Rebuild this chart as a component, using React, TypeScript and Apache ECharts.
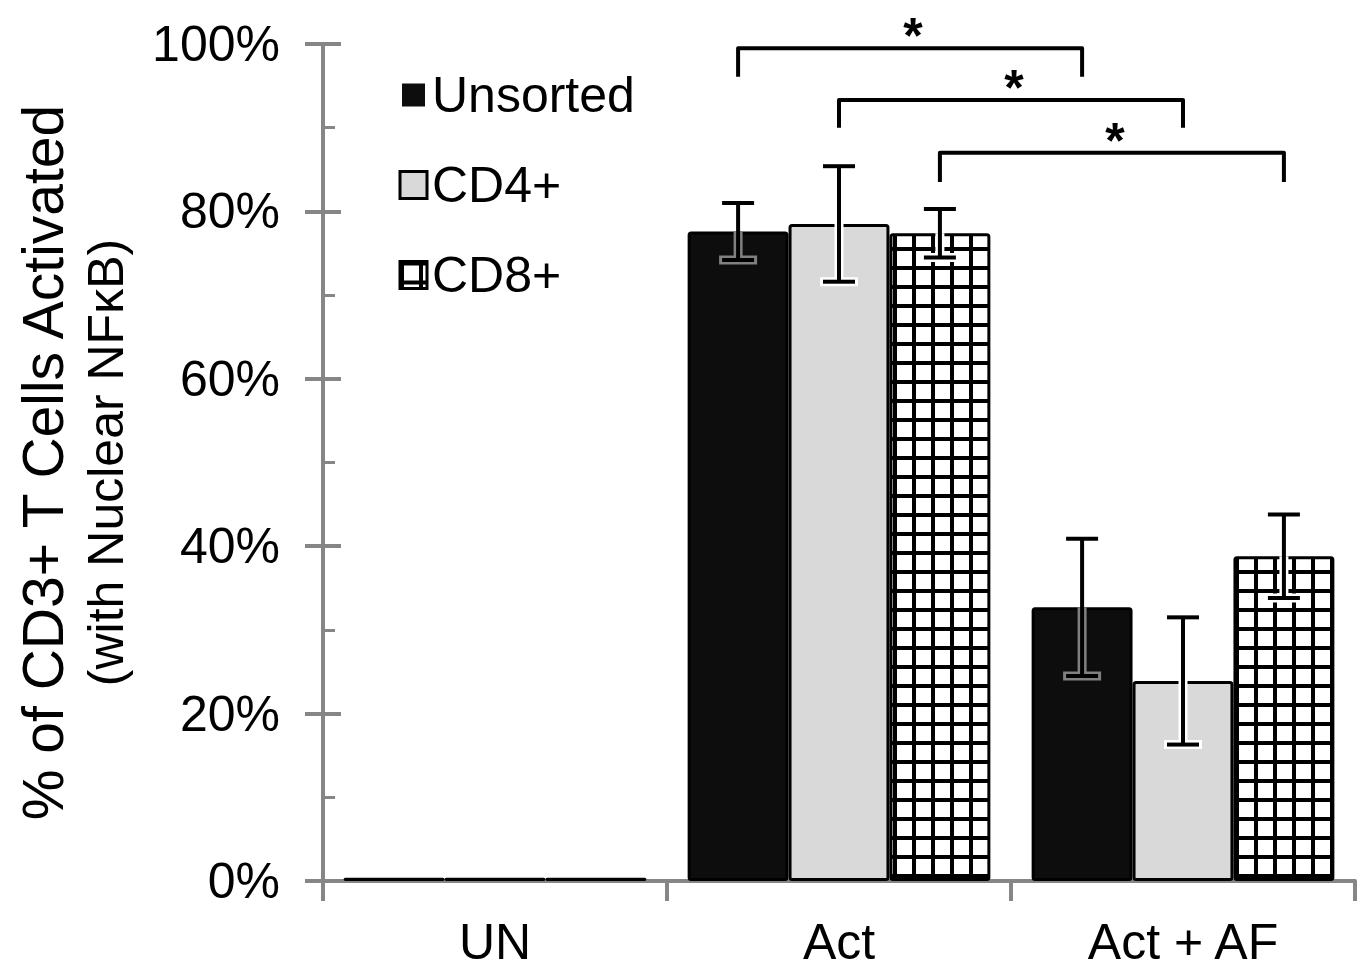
import React, { useEffect, useRef } from 'react';
import * as echarts from 'echarts';

const categories = ['UN', 'Act', 'Act + AF'];
const seriesNames = ['Unsorted', 'CD4+', 'CD8+'];
const unsortedValues = [0.4, 77.6, 32.7];
const cd4Values = [0.4, 78.5, 23.9];
const cd8Values = [0.4, 77.4, 38.8];
const unsortedErrors = [0, 3.4, 8.2];
const cd4Errors = [0, 6.9, 7.6];
const cd8Errors = [0, 2.9, 5.0];

// significance brackets: from (category, series) to (category, series)
const bracketFromCat = [1, 1, 1];
const bracketFromSeries = [0, 1, 2];
const bracketToCat = [2, 2, 2];
const bracketToSeries = [0, 1, 2];
const bracketTop = [99.5, 93.3, 87.0];
const bracketEnd = [96.1, 90.0, 83.5];
const bracketLabels = ['*', '*', '*'];

const FONT = '"Liberation Sans", Arial, sans-serif';
const AXIS_COLOR = '#868686';
const BAR_GAP = 0.12;

function makePattern() {
  const c = document.createElement('canvas');
  c.width = 19;
  c.height = 19;
  const ctx = c.getContext('2d')!;
  ctx.fillStyle = '#ffffff';
  ctx.fillRect(0, 0, 19, 19);
  ctx.fillStyle = '#000000';
  ctx.fillRect(0, 0, 19, 4);
  ctx.fillRect(0, 0, 4, 19);
  return c;
}

function barX(api: any, cat: number, s: number) {
  const c = api.coord([cat, 0])[0];
  const band = api.size([1, 0])[0];
  const bw = (band * (1 - BAR_GAP)) / 3;
  return c + (s - 1) * bw;
}

export default function App() {
  const ref = useRef<HTMLDivElement>(null);
  useEffect(() => {
    if (!ref.current) return;
    const chart = echarts.init(ref.current, null, { renderer: 'svg' });
    const pattern = makePattern();
    const patternFill: any = { image: pattern, repeat: 'repeat', imageWidth: 19, imageHeight: 19 };
    const fills: any[] = ['#0d0d0d', '#d9d9d9', patternFill];
    const haloColors = ['#808080', '#ffffff', '#ffffff'];
    const valueSets = [unsortedValues, cd4Values, cd8Values];
    const errSets = [unsortedErrors, cd4Errors, cd8Errors];

    const errData: number[][] = [];
    valueSets.forEach((vals, s) => {
      vals.forEach((v, i) => {
        errData.push([i, v, errSets[s][i], s]);
      });
    });
    const bracketData = bracketFromCat.map((fc, i) => [
      fc,
      bracketTop[i],
      bracketFromSeries[i],
      bracketToCat[i],
      bracketToSeries[i],
      bracketEnd[i],
      i,
    ]);

    const barSeries = seriesNames.map((name, s) => ({
      name,
      type: 'bar',
      data: valueSets[s],
      barGap: '0%',
      barCategoryGap: BAR_GAP * 100 + '%',
      itemStyle: {
        color: fills[s],
        borderColor: '#000',
        borderWidth: 3,
        borderRadius: 2,
      },
      z: 2,
    }));

    const option: any = {
      animation: false,
      textStyle: { fontFamily: FONT },
      grid: { left: 323, right: 6, top: 44, bottom: 85, containLabel: false },
      legend: {
        orient: 'vertical',
        left: 393,
        top: 65,
        itemGap: 40,
        itemWidth: 27,
        itemHeight: 27,
        icon: 'rect',
        textStyle: { fontSize: 50, color: '#000', fontFamily: FONT },
        data: seriesNames.map((name, s) => ({
          name,
          icon: 'rect',
          itemStyle: {
            color: fills[s],
            borderColor: s === 0 ? '#ffffff' : '#000',
            borderWidth: s === 0 ? 4 : 3,
          },
        })),
      },
      xAxis: {
        type: 'category',
        data: categories,
        axisLine: { lineStyle: { color: AXIS_COLOR, width: 4 } },
        axisTick: { show: true, length: 20, lineStyle: { color: AXIS_COLOR, width: 4 } },
        axisLabel: { fontSize: 50, color: '#000', margin: 36, fontFamily: FONT },
      },
      yAxis: [
        {
          type: 'value',
          min: 0,
          max: 100,
          interval: 20,
          name: '{a|% of CD3+ T Cells Activated}\n{b|(with Nuclear NFκB)}',
          nameLocation: 'middle',
          nameRotate: 90,
          nameGap: 186,
          nameTextStyle: {
            color: '#000',
            fontFamily: FONT,
            rich: {
              a: { fontSize: 57, lineHeight: 64, color: '#000', fontFamily: FONT },
              b: { fontSize: 50, lineHeight: 62, color: '#000', fontFamily: FONT },
            },
          },
          axisLine: { show: true, lineStyle: { color: AXIS_COLOR, width: 4 } },
          axisTick: { show: true, length: 18, lineStyle: { color: AXIS_COLOR, width: 4 } },
          axisLabel: { formatter: '{value}%', fontSize: 50, color: '#000', margin: 43, fontFamily: FONT },
          splitLine: { show: false },
        },
        {
          type: 'value',
          min: 0,
          max: 100,
          interval: 20,
          position: 'left',
          axisLine: { show: true, lineStyle: { color: AXIS_COLOR, width: 4 } },
          axisTick: { show: true, inside: true, length: 18, lineStyle: { color: AXIS_COLOR, width: 4 } },
          minorTick: { show: true, splitNumber: 2, length: 12, lineStyle: { color: AXIS_COLOR, width: 3 } },
          axisLabel: { show: false },
          splitLine: { show: false },
        },
      ],
      series: [
        ...barSeries,
        {
          type: 'custom',
          name: 'errors',
          z: 5,
          encode: { x: 0, y: 1 },
          data: errData,
          renderItem: (params: any, api: any) => {
            const cat = api.value(0);
            const val = api.value(1);
            const err = api.value(2);
            const s = api.value(3);
            if (!err) return null;
            const x = barX(api, cat, s);
            const yTop = api.coord([cat, val + err])[1];
            const yBot = api.coord([cat, val - err])[1];
            const yVal = api.coord([cat, val])[1];
            const cap = 16;
            const halo = haloColors[s];
            return {
              type: 'group',
              children: [
                {
                  type: 'line',
                  shape: { x1: x, y1: yVal, x2: x, y2: yBot },
                  style: { stroke: halo, lineWidth: 9 },
                },
                {
                  type: 'line',
                  shape: { x1: x - cap - 3, y1: yBot, x2: x + cap + 3, y2: yBot },
                  style: { stroke: halo, lineWidth: 9 },
                },
                {
                  type: 'line',
                  shape: { x1: x, y1: yTop, x2: x, y2: yBot },
                  style: { stroke: '#000', lineWidth: 4 },
                },
                {
                  type: 'line',
                  shape: { x1: x - cap, y1: yTop, x2: x + cap, y2: yTop },
                  style: { stroke: '#000', lineWidth: 4 },
                },
                {
                  type: 'line',
                  shape: { x1: x - cap, y1: yBot, x2: x + cap, y2: yBot },
                  style: { stroke: '#000', lineWidth: 4 },
                },
              ],
            };
          },
        },
        {
          type: 'custom',
          name: 'brackets',
          z: 6,
          encode: { x: 0, y: 1 },
          data: bracketData,
          renderItem: (params: any, api: any) => {
            const fc = api.value(0);
            const top = api.value(1);
            const fs = api.value(2);
            const tc = api.value(3);
            const ts = api.value(4);
            const end = api.value(5);
            const idx = api.value(6);
            const x1 = barX(api, fc, fs);
            const x2 = barX(api, tc, ts);
            const yT = api.coord([fc, top])[1];
            const yE = api.coord([fc, end])[1];
            return {
              type: 'group',
              children: [
                {
                  type: 'polyline',
                  shape: { points: [[x1, yE], [x1, yT], [x2, yT], [x2, yE]] },
                  style: { stroke: '#000', lineWidth: 4, fill: 'none', lineJoin: 'round' },
                },
                {
                  type: 'text',
                  x: (x1 + x2) / 2 + 3,
                  y: yT - 12,
                  style: {
                    text: bracketLabels[idx],
                    fontSize: 50,
                    fontWeight: 'bold',
                    fontFamily: FONT,
                    fill: '#000',
                    align: 'center',
                    verticalAlign: 'middle',
                    textAlign: 'center',
                    textVerticalAlign: 'middle',
                  },
                },
              ],
            };
          },
        },
      ],
    };
    chart.setOption(option);
    return () => chart.dispose();
  }, []);
  return (
    <div
      ref={ref}
      style={{ position: 'absolute', left: 0, top: 0, width: 1361, height: 967, background: '#fff' }}
    />
  );
}
